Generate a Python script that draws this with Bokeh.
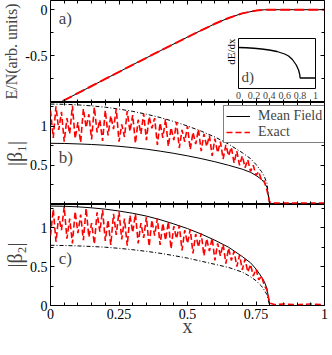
from bokeh.plotting import figure
from bokeh.models import (LinearAxis, FixedTicker, NumeralTickFormatter, Range1d,
                          Label, Legend, LegendItem, CustomJSTickFormatter, Title)
from bokeh.layouts import column
from bokeh.embed import file_html
from bokeh.resources import INLINE

FONT = "Liberation Serif"

# ---------------- data ----------------
# panel a: energy per particle
e_x = [0.0, 0.1, 0.2, 0.3, 0.4, 0.5, 0.55, 0.6, 0.65, 0.7, 0.75, 0.78, 0.8, 0.9, 1.0]
e_mean = [-1.062, -0.908, -0.754, -0.600, -0.448, -0.298, -0.225, -0.153, -0.090,
          -0.040, -0.010, -0.001, 0.0, 0.0, 0.0]
e_exact = [-1.062, -0.908, -0.754, -0.600, -0.448, -0.298, -0.225, -0.153, -0.090,
           -0.040, -0.010, -0.001, 0.0, 0.0, 0.0]

# inset d: dE/dx
d_x = [0.0, 0.1, 0.2, 0.3, 0.4, 0.5, 0.6, 0.65, 0.7, 0.75, 0.78, 0.795, 0.8, 0.9, 1.0]
d_y = [0.82, 0.815, 0.805, 0.79, 0.77, 0.74, 0.69, 0.65, 0.58, 0.47, 0.37, 0.28,
       0.21, 0.21, 0.21]

# mean-field curves
mf_x = [0.0, 0.05, 0.1, 0.15, 0.2, 0.25, 0.3, 0.35, 0.4, 0.45, 0.5, 0.55, 0.6,
        0.65, 0.7, 0.73, 0.75, 0.77, 0.78, 0.79, 0.8, 0.81, 0.9, 1.0]
b_dashdot = [1.28, 1.277, 1.27, 1.257, 1.24, 1.216, 1.187, 1.151, 1.109, 1.058,
             1.0, 0.935, 0.86, 0.77, 0.66, 0.585, 0.51, 0.42, 0.36, 0.27, 0.0, 0.0, 0.0, 0.0]
b_solid = [0.78, 0.778, 0.772, 0.765, 0.755, 0.742, 0.725, 0.705, 0.68, 0.652,
           0.62, 0.585, 0.545, 0.50, 0.45, 0.41, 0.37, 0.32, 0.28, 0.22, 0.0, 0.0, 0.0, 0.0]
c_solid = [1.28, 1.277, 1.27, 1.257, 1.24, 1.216, 1.187, 1.151, 1.105, 1.05,
           0.99, 0.92, 0.84, 0.75, 0.63, 0.55, 0.47, 0.37, 0.31, 0.22, 0.0, 0.0, 0.0, 0.0]
c_dashdot = [0.775, 0.772, 0.767, 0.76, 0.75, 0.736, 0.718, 0.697, 0.672, 0.642,
             0.61, 0.57, 0.53, 0.49, 0.43, 0.37, 0.32, 0.25, 0.20, 0.14, 0.0, 0.0, 0.0, 0.0]

# exact curves
ex_x = [0.00, 0.01, 0.02, 0.03, 0.04, 0.05, 0.06, 0.07, 0.08, 0.09,
        0.10, 0.11, 0.12, 0.13, 0.14, 0.15, 0.16, 0.17, 0.18, 0.19,
        0.20, 0.21, 0.22, 0.23, 0.24, 0.25, 0.26, 0.27, 0.28, 0.29,
        0.30, 0.31, 0.32, 0.33, 0.34, 0.35, 0.36, 0.37, 0.38, 0.39,
        0.40, 0.41, 0.42, 0.43, 0.44, 0.45, 0.46, 0.47, 0.48, 0.49,
        0.50, 0.51, 0.52, 0.53, 0.54, 0.55, 0.56, 0.57, 0.58, 0.59,
        0.60, 0.61, 0.62, 0.63, 0.64, 0.65, 0.66, 0.67, 0.68, 0.69,
        0.70, 0.71, 0.72, 0.73, 0.74, 0.75, 0.76, 0.77, 0.78, 0.79,
        0.80, 0.82, 0.85, 0.90, 0.95, 1.00]
ex_b = [1.20, 0.85, 1.25, 0.95, 1.18, 0.80, 1.10, 0.90, 1.26, 0.84,
        1.05, 0.79, 1.22, 0.98, 1.15, 0.83, 1.24, 0.92, 1.08, 0.81,
        1.20, 0.88, 1.13, 0.96, 1.22, 0.80, 1.02, 0.86, 1.19, 0.93,
        1.14, 0.78, 1.08, 0.90, 1.16, 0.82, 1.12, 0.97, 1.10, 0.76,
        1.04, 0.85, 1.09, 0.74, 0.98, 0.82, 1.05, 0.72, 0.95, 0.80,
        1.00, 0.70, 0.92, 0.77, 0.96, 0.68, 0.90, 0.74, 0.88, 0.62,
        0.84, 0.66, 0.80, 0.58, 0.76, 0.62, 0.73, 0.53, 0.68, 0.50,
        0.62, 0.47, 0.57, 0.42, 0.50, 0.37, 0.42, 0.31, 0.30, 0.18,
        0.03, 0.02, 0.02, 0.02, 0.02, 0.02]
ex_c = [0.90, 1.24, 0.82, 1.15, 0.97, 1.27, 0.86, 1.12, 0.80, 1.21,
        0.93, 1.17, 0.84, 1.25, 0.88, 1.06, 0.79, 1.20, 0.95, 1.23,
        0.83, 1.10, 0.78, 1.18, 0.91, 1.21, 0.85, 1.12, 0.77, 1.16,
        0.94, 1.18, 0.80, 1.06, 0.87, 1.14, 0.76, 1.10, 0.90, 1.12,
        0.78, 1.06, 0.84, 1.08, 0.73, 1.02, 0.86, 1.03, 0.71, 0.97,
        0.80, 0.98, 0.67, 0.92, 0.75, 0.93, 0.64, 0.86, 0.70, 0.87,
        0.58, 0.80, 0.64, 0.79, 0.54, 0.74, 0.58, 0.70, 0.50, 0.65,
        0.46, 0.60, 0.43, 0.53, 0.38, 0.47, 0.33, 0.38, 0.26, 0.20,
        0.03, 0.01, 0.02, 0.01, 0.02, 0.01]

x_ticks = [0.0, 0.25, 0.5, 0.75, 1.0]
x_minor = [0.05, 0.1, 0.15, 0.2, 0.3, 0.35, 0.4, 0.45, 0.55, 0.6, 0.65, 0.7,
           0.8, 0.85, 0.9, 0.95]
a_yticks = [-0.5, 0.0]
a_yminor = [-1.0, -0.75, -0.25]
b_yticks = [0.5, 1.0]
c_yticks = [0.0, 0.5, 1.0]
bc_yminor = [0.25, 0.75, 1.25]
d_xticks = [0.0, 0.2, 0.4, 0.6, 0.8, 1.0]

FW = 274
LB = 46


def style_axis(ax, ticks, minor, show_labels, fmt="0.[00]"):
    ax.ticker = FixedTicker(ticks=ticks, minor_ticks=minor)
    ax.major_tick_in = 4
    ax.major_tick_out = 0
    ax.minor_tick_in = 3
    ax.minor_tick_out = 0
    ax.major_tick_line_color = "black"
    ax.minor_tick_line_color = "black"
    ax.axis_line_color = None
    ax.major_label_text_font = FONT
    ax.major_label_text_color = "black"
    if show_labels:
        ax.formatter = NumeralTickFormatter(format=fmt)
        ax.major_label_text_font_size = "14px"
        ax.major_label_standoff = 3
    else:
        ax.formatter = CustomJSTickFormatter(code="return ''")
        ax.major_label_text_font_size = "0px"
        ax.major_label_standoff = 0


def make_panel(yr, fh, yticks, yminor, ylabel, ylabel_size, lab_standoff, bottom_labels):
    p = figure(frame_width=FW, frame_height=fh, x_range=Range1d(0, 1), y_range=yr,
               output_backend="svg", toolbar_location=None,
               min_border_left=LB, min_border_right=4, min_border_top=0,
               min_border_bottom=0, background_fill_color="white",
               border_fill_color="white")
    p.grid.visible = False
    p.outline_line_color = "black"
    p.outline_line_width = 1
    xb = p.below[0]
    style_axis(xb, x_ticks, x_minor, bottom_labels)
    yl = p.left[0]
    style_axis(yl, yticks, yminor, True, "0.[0]")
    yl.axis_label = ylabel
    yl.axis_label_text_font = FONT
    yl.axis_label_text_font_style = "normal"
    yl.axis_label_text_font_size = ylabel_size
    yl.axis_label_standoff = lab_standoff
    xt = LinearAxis()
    style_axis(xt, x_ticks, x_minor, False)
    p.add_layout(xt, "above")
    yr_ax = LinearAxis()
    style_axis(yr_ax, yticks, yminor, False)
    p.add_layout(yr_ax, "right")
    return p, xb


# ---- panel a ----
pa, _ = make_panel(Range1d(-1.01, 0.10), 102, a_yticks, a_yminor,
                   "E/N(arb. units)", "16px", 2, False)
pa.line(e_x, e_mean, line_color="black", line_width=1)
pa.line(e_x, e_exact, line_color="red", line_width=2, line_dash="10 4")
pa.add_layout(Label(x=0.03, y=-0.1, text="a)", text_baseline="middle",
                    text_font=FONT, text_font_size="17px"))

# ---- panel b ----
pb, _ = make_panel(Range1d(0, 1.3), 102, b_yticks, bc_yminor, "|β₁|", "20px", 1, False)
r_mf_b = pb.line(mf_x, b_solid, line_color="black", line_width=1)
pb.line(mf_x, b_dashdot, line_color="black", line_width=1, line_dash="4 2 1 2")
r_ex_b = pb.line(ex_x, ex_b, line_color="red", line_width=1.6, line_dash="6 3")
pb.add_layout(Label(x=0.03, y=0.6, text="b)", text_baseline="middle",
                    text_font=FONT, text_font_size="17px"))
leg = Legend(items=[LegendItem(label="Mean Field", renderers=[r_mf_b]),
                    LegendItem(label="Exact", renderers=[r_ex_b])],
             location=(173, 61), margin=0, padding=2, spacing=0,
             label_height=14, glyph_height=14, glyph_width=24, label_standoff=8,
             label_text_font=FONT, label_text_font_size="14px",
             border_line_color="black", border_line_width=1,
             background_fill_color="white", background_fill_alpha=1)
pb.add_layout(leg)

# ---- panel c ----
pc, xc = make_panel(Range1d(0, 1.3), 101, c_yticks, bc_yminor, "|β₂|", "20px", 1, True)
pc.line(mf_x, c_solid, line_color="black", line_width=1)
pc.line(mf_x, c_dashdot, line_color="black", line_width=1, line_dash="4 2 1 2")
pc.line(ex_x, ex_c, line_color="red", line_width=1.6, line_dash="6 3")
pc.add_layout(Label(x=0.03, y=0.6, text="c)", text_baseline="middle",
                    text_font=FONT, text_font_size="17px"))
xc.axis_label = "x"
xc.axis_label_text_font = FONT
xc.axis_label_text_font_style = "normal"
xc.axis_label_text_font_size = "20px"
xc.axis_label_standoff = -7

# ---- inset d (separate root, absolutely placed over panel a) ----
ins = figure(frame_width=77, frame_height=50, x_range=Range1d(0, 1), y_range=Range1d(0, 1),
             output_backend="svg", toolbar_location=None,
             min_border_left=17, min_border_right=3, min_border_top=2, min_border_bottom=14,
             background_fill_color="white", border_fill_color=None,
             styles={"position": "absolute", "left": "220px", "top": "36px"})
ins.grid.visible = False
ins.outline_line_color = "black"
ins.line(d_x, d_y, line_color="black", line_width=1.3)
ax = ins.below[0]
ax.ticker = FixedTicker(ticks=d_xticks)
ax.formatter = NumeralTickFormatter(format="0.[0]")
ax.major_tick_in = 0
ax.major_tick_out = 0
ax.minor_tick_out = 0
ax.minor_tick_line_color = None
ax.axis_line_color = None
ax.major_label_text_font = FONT
ax.major_label_text_font_size = "10px"
ax.major_label_standoff = 3
ins.left[0].visible = False
ins.add_layout(Title(text="dE/dx", align="right", standoff=4, offset=0,
                     text_font=FONT, text_font_style="normal",
                     text_font_size="11px", text_color="black"), "left")
ins.add_layout(Label(x=0.04, y=0.23, text="d)", text_baseline="middle",
                     text_font=FONT, text_font_size="15px"))

main = column(pa, pb, pc)

open("out.html", "w").write(file_html([main, ins], INLINE))
